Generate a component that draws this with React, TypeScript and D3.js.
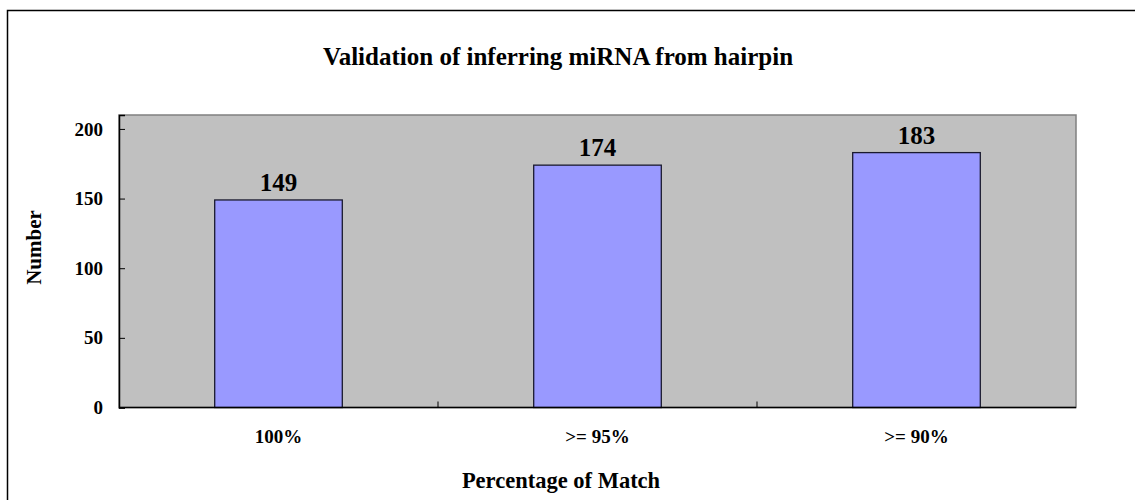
import * as d3 from "d3"
import { useLayoutEffect, useRef } from "react"

const categories = ["100%", ">= 95%", ">= 90%"]
const values = [149, 174, 183]
const yTicks = [0, 50, 100, 150, 200]

const FONT = "'Liberation Serif', 'Times New Roman', serif"

export default function App() {
  const ref = useRef<SVGSVGElement>(null)

  useLayoutEffect(() => {
    if (!ref.current) return
    const svg = d3.select(ref.current)
    svg.selectAll("*").remove()

    const plot = { left: 119, right: 1076, top: 115, bottom: 407.5 }

    // outer chart border (right/bottom edges fall outside the picture)
    svg
      .append("rect")
      .attr("x", 7.5)
      .attr("y", 10.5)
      .attr("width", 1200)
      .attr("height", 600)
      .attr("fill", "#fff")
      .attr("stroke", "#000")
      .attr("stroke-width", 1.5)

    const x = d3
      .scaleBand()
      .domain(categories)
      .range([plot.left, plot.right])
      .paddingInner(0.6)
      .paddingOuter(0.3)

    const y = d3.scaleLinear().domain([0, 210]).range([plot.bottom, plot.top])

    svg
      .append("rect")
      .attr("x", plot.left)
      .attr("y", plot.top)
      .attr("width", plot.right - plot.left)
      .attr("height", plot.bottom - plot.top)
      .attr("fill", "#c0c0c0")
      .attr("stroke", "#808080")
      .attr("stroke-width", 1.5)

    svg
      .selectAll(".bar")
      .data(values)
      .enter()
      .append("rect")
      .attr("class", "bar")
      .attr("x", (_, i) => x(categories[i])!)
      .attr("y", (d) => y(d))
      .attr("width", x.bandwidth())
      .attr("height", (d) => y(0) - y(d))
      .attr("fill", "#9999ff")
      .attr("stroke", "#1a1a2e")
      .attr("stroke-width", 1.3)

    svg
      .selectAll(".val")
      .data(values)
      .enter()
      .append("text")
      .attr("class", "val")
      .attr("x", (_, i) => x(categories[i])! + x.bandwidth() / 2)
      .attr("y", (d) => y(d) - 9)
      .attr("text-anchor", "middle")
      .attr("font-family", FONT)
      .attr("font-weight", "bold")
      .attr("font-size", 25)
      .text((d) => d)

    // y axis
    const yAxis = svg
      .append("g")
      .attr("transform", `translate(${plot.left},0)`)
      .call(d3.axisLeft(y).tickValues(yTicks).tickSize(-6).tickPadding(16))
    yAxis.select(".domain").attr("stroke", "#000").attr("stroke-width", 1.5)
    yAxis.selectAll(".tick line").attr("stroke", "#000")
    yAxis
      .selectAll(".tick text")
      .attr("font-family", FONT)
      .attr("font-weight", "bold")
      .attr("font-size", 19)
      .attr("fill", "#000")

    // x axis: tick marks at band boundaries
    const boundaries = d3.range(1, categories.length).map(
      (i) => plot.left + ((plot.right - plot.left) * i) / categories.length,
    )
    svg
      .append("line")
      .attr("x1", plot.left)
      .attr("x2", plot.right)
      .attr("y1", plot.bottom)
      .attr("y2", plot.bottom)
      .attr("stroke", "#000")
      .attr("stroke-width", 1.5)
    svg
      .selectAll(".xtick")
      .data(boundaries)
      .enter()
      .append("line")
      .attr("x1", (d) => d)
      .attr("x2", (d) => d)
      .attr("y1", plot.bottom)
      .attr("y2", plot.bottom - 6)
      .attr("stroke", "#000")
    svg
      .selectAll(".xlab")
      .data(categories)
      .enter()
      .append("text")
      .attr("x", (d) => x(d)! + x.bandwidth() / 2)
      .attr("y", 443)
      .attr("text-anchor", "middle")
      .attr("font-family", FONT)
      .attr("font-weight", "bold")
      .attr("font-size", 19)
      .text((d) => d)

    svg
      .append("text")
      .attr("x", 558)
      .attr("y", 64.5)
      .attr("text-anchor", "middle")
      .attr("font-family", FONT)
      .attr("font-weight", "bold")
      .attr("font-size", 25)
      .text("Validation of inferring miRNA from hairpin")

    svg
      .append("text")
      .attr("x", 561)
      .attr("y", 488)
      .attr("text-anchor", "middle")
      .attr("font-family", FONT)
      .attr("font-weight", "bold")
      .attr("font-size", 22.5)
      .text("Percentage of Match")

    svg
      .append("text")
      .attr("transform", "translate(41,247.5) rotate(-90)")
      .attr("text-anchor", "middle")
      .attr("font-family", FONT)
      .attr("font-weight", "bold")
      .attr("font-size", 21)
      .text("Number")
  }, [])

  return (
    <svg
      ref={ref}
      width={1135}
      height={500}
      style={{ position: "absolute", left: 0, top: 0, display: "block" }}
    />
  )
}
